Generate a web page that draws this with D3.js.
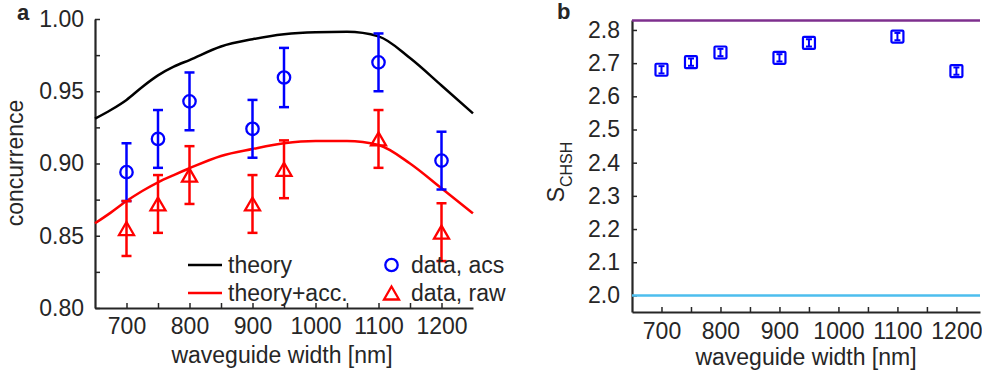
<!DOCTYPE html>
<html>
<head>
<meta charset="utf-8">
<script src="https://cdn.jsdelivr.net/npm/d3@7"></script>
<style>
  body { margin: 0; background: #fff; }
  text { font-family: "Liberation Sans", Arial, Helvetica, sans-serif; fill: #262626; }
</style>
</head>
<body>
<svg id="chart" width="982" height="377"></svg>
<script>
// waveguide widths of the measured samples
const widths = [700, 750, 800, 900, 950, 1100, 1200];

// panel a: concurrence
const acsValues = [0.894, 0.917, 0.943, 0.924, 0.9595, 0.970, 0.902];
const acsErr    = [0.020, 0.020, 0.020, 0.020, 0.0205, 0.020, 0.020];
const rawValues = [0.855, 0.872, 0.892, 0.872, 0.896, 0.917, 0.8525];
const rawErr    = [0.019, 0.020, 0.020, 0.020, 0.020, 0.020, 0.020];

const curveX      = [650, 675, 700, 725, 750, 775, 800, 850, 900, 950, 1000, 1050, 1100, 1150, 1200, 1250];
const theoryY     = [0.931, 0.937, 0.944, 0.953, 0.961, 0.967, 0.9716, 0.981, 0.986, 0.9894, 0.9908, 0.9911, 0.988, 0.973, 0.954, 0.9347];
const theoryAccY  = [0.8586, 0.866, 0.874, 0.881, 0.887, 0.892, 0.8967, 0.9052, 0.910, 0.914, 0.9156, 0.9156, 0.9128, 0.900, 0.8828, 0.8655];

// panel b: CHSH parameter
const sValues = [2.680, 2.703, 2.732, 2.716, 2.761, 2.780, 2.676];
const sErr    = [0.011, 0.011, 0.011, 0.011, 0.011, 0.011, 0.011];
const sQuantum = 2 * Math.SQRT2;
const sClassical = 2.0;

// ticks
const xTicks  = [700, 750, 800, 850, 900, 950, 1000, 1050, 1100, 1150, 1200];
const xLabels = ["700", "", "800", "", "900", "", "1000", "", "1100", "", "1200"];
const yTicksA  = [0.80, 0.825, 0.85, 0.875, 0.90, 0.925, 0.95, 0.975, 1.00];
const yLabelsA = ["0.80", "", "0.85", "", "0.90", "", "0.95", "", "1.00"];
const yTicksB  = [2.0, 2.1, 2.2, 2.3, 2.4, 2.5, 2.6, 2.7, 2.8];

const legendItems = ["theory", "theory+acc.", "data, acs", "data, raw"];

const axisColor = "#262626";
const blue = "#0000ff", red = "#ff0000";
const purple = "#7e2f8e", cyan = "#4dbeee";
const fontSize = "23px";

const svg = d3.select("#chart");

function styleAxis(g) {
    g.selectAll(".domain").attr("stroke", axisColor).attr("stroke-width", 2.2);
    g.selectAll("line").attr("stroke", axisColor).attr("stroke-width", 1.5);
    g.selectAll("text").attr("fill", axisColor).style("font-size", fontSize)
        .style("font-family", "'Liberation Sans', Arial, sans-serif");
}

function labelFor(ticks, labels) {
    return d => labels[ticks.indexOf(d)];
}

// ================= PANEL A =================
const xA = d3.scaleLinear().domain([650, 1250]).range([95, 473]);
const yA = d3.scaleLinear().domain([0.80, 1.00]).range([308, 19]);

const a = svg.append("g");

a.append("g")
    .attr("transform", "translate(0,308)")
    .call(d3.axisBottom(xA).tickValues(xTicks).tickSizeInner(-5).tickSizeOuter(0)
        .tickPadding(10).tickFormat(labelFor(xTicks, xLabels)))
    .call(styleAxis);

a.append("g")
    .attr("transform", "translate(95,0)")
    .call(d3.axisLeft(yA).tickValues(yTicksA).tickSizeInner(-5).tickSizeOuter(0)
        .tickPadding(11).tickFormat(labelFor(yTicksA, yLabelsA)))
    .call(styleAxis);

// --- theory curves ---
const lineA = d3.line()
    .x((d, i) => xA(curveX[i]))
    .y(d => yA(d))
    .curve(d3.curveMonotoneX);

a.append("path").datum(theoryY)
    .attr("fill", "none").attr("stroke", "#000").attr("stroke-width", 2.5)
    .attr("d", lineA);
a.append("path").datum(theoryAccY)
    .attr("fill", "none").attr("stroke", red).attr("stroke-width", 2.5)
    .attr("d", lineA);

// --- error bars ---
function errorBars(g, xs, vals, errs, xScale, yScale, color, cap, width) {
    const eb = g.append("g").attr("stroke", color).attr("stroke-width", width).attr("fill", "none");
    vals.forEach((v, i) => {
        const x = xScale(xs[i]);
        const y0 = yScale(v - errs[i]), y1 = yScale(v + errs[i]);
        eb.append("line").attr("x1", x).attr("x2", x).attr("y1", y0).attr("y2", y1);
        eb.append("line").attr("x1", x - cap).attr("x2", x + cap).attr("y1", y0).attr("y2", y0);
        eb.append("line").attr("x1", x - cap).attr("x2", x + cap).attr("y1", y1).attr("y2", y1);
    });
}

errorBars(a, widths, acsValues, acsErr, xA, yA, blue, 5, 2.5);
errorBars(a, widths, rawValues, rawErr, xA, yA, red, 5, 2.5);

const triPath = "M0,-6.5L7.5,6.5L-7.5,6.5Z";

a.append("g").selectAll("circle").data(acsValues).join("circle")
    .attr("cx", (d, i) => xA(widths[i]))
    .attr("cy", d => yA(d))
    .attr("r", 6.2)
    .attr("fill", "none").attr("stroke", blue).attr("stroke-width", 2.3);

a.append("g").selectAll("path").data(rawValues).join("path")
    .attr("transform", (d, i) => `translate(${xA(widths[i])},${yA(d)})`)
    .attr("d", triPath)
    .attr("fill", "none").attr("stroke", red).attr("stroke-width", 2.3)
    .attr("stroke-linejoin", "miter");

// --- legend ---
const leg = a.append("g").style("font-size", fontSize);
leg.append("line").attr("x1", 188).attr("x2", 222).attr("y1", 265).attr("y2", 265)
    .attr("stroke", "#000").attr("stroke-width", 2.5);
leg.append("line").attr("x1", 188).attr("x2", 222).attr("y1", 293).attr("y2", 293)
    .attr("stroke", red).attr("stroke-width", 2.5);
leg.append("circle").attr("cx", 391.5).attr("cy", 265).attr("r", 6.2)
    .attr("fill", "none").attr("stroke", blue).attr("stroke-width", 2.3);
leg.append("path").attr("transform", "translate(391.5,293)").attr("d", triPath)
    .attr("fill", "none").attr("stroke", red).attr("stroke-width", 2.3);
[[228, 265], [228, 293], [411, 265], [411, 293]].forEach((p, i) => {
    leg.append("text").attr("x", p[0]).attr("y", p[1]).attr("dy", "0.36em")
        .attr("fill", "#000").text(legendItems[i]);
});

// --- axis titles ---
a.append("text")
    .attr("transform", "translate(23,163) rotate(-90)")
    .attr("text-anchor", "middle").style("font-size", fontSize)
    .text("concurrence");
a.append("text")
    .attr("x", 282).attr("y", 363)
    .attr("text-anchor", "middle").style("font-size", fontSize)
    .text("waveguide width [nm]");
a.append("text")
    .attr("x", 17).attr("y", 20)
    .style("font-size", "22px").style("font-weight", "bold").attr("fill", "#000")
    .text("a");

// ================= PANEL B =================
const xB = d3.scaleLinear().domain([650, 1240]).range([632, 980]);
const yB = d3.scaleLinear().domain([1.95, 2.83]).range([312, 20]);

const b = svg.append("g");

b.append("g")
    .attr("transform", "translate(0,312)")
    .call(d3.axisBottom(xB).tickValues(xTicks).tickSizeInner(-5).tickSizeOuter(0)
        .tickPadding(11).tickFormat(labelFor(xTicks, xLabels)))
    .call(styleAxis);

b.append("g")
    .attr("transform", "translate(632,0)")
    .call(d3.axisLeft(yB).tickValues(yTicksB).tickSizeInner(-5).tickSizeOuter(0)
        .tickPadding(12).tickFormat(d3.format(".1f")))
    .call(styleAxis);

// --- bounds ---
b.append("line")
    .attr("x1", xB(650)).attr("x2", xB(1240))
    .attr("y1", yB(sQuantum)).attr("y2", yB(sQuantum))
    .attr("stroke", purple).attr("stroke-width", 2.5);
b.append("line")
    .attr("x1", xB(650)).attr("x2", xB(1240))
    .attr("y1", yB(sClassical)).attr("y2", yB(sClassical))
    .attr("stroke", cyan).attr("stroke-width", 2.5);

// --- S values ---
errorBars(b, widths, sValues, sErr, xB, yB, blue, 3, 2);

b.append("g").selectAll("rect").data(sValues).join("rect")
    .attr("x", (d, i) => xB(widths[i]) - 6)
    .attr("y", d => yB(d) - 6)
    .attr("width", 12).attr("height", 12).attr("rx", 1)
    .attr("fill", "none").attr("stroke", blue).attr("stroke-width", 2.2);

// --- axis titles ---
const sLabel = b.append("text")
    .attr("transform", "translate(564,172) rotate(-90)")
    .attr("text-anchor", "middle").style("font-size", fontSize);
sLabel.append("tspan").text("S");
sLabel.append("tspan").attr("dy", 8).style("font-size", "16px").text("CHSH");

b.append("text")
    .attr("x", 806).attr("y", 365)
    .attr("text-anchor", "middle").style("font-size", fontSize)
    .text("waveguide width [nm]");
b.append("text")
    .attr("x", 557).attr("y", 19)
    .style("font-size", "22px").style("font-weight", "bold").attr("fill", "#000")
    .text("b");
</script>
</body>
</html>
